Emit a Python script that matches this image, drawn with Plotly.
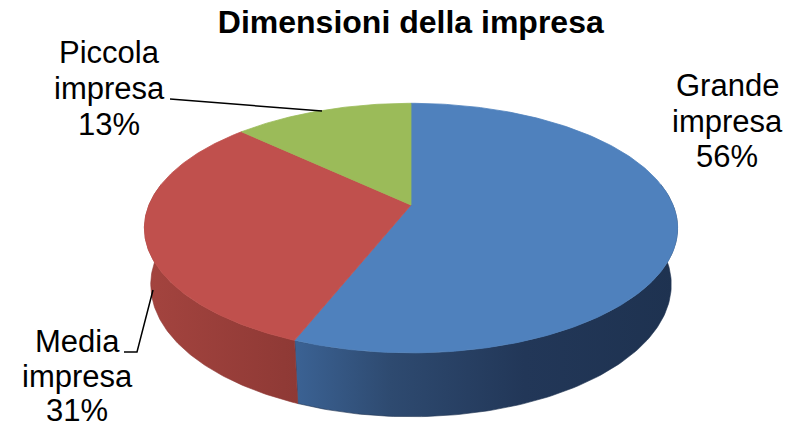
import numpy as np
import plotly.graph_objects as go

# Company size breakdown
categories = ["Grande impresa", "Media impresa", "Piccola impresa"]
shares = [56, 31, 13]
top_colors = ["#4F81BD", "#C0504D", "#9BBB59"]
side_scales = [
    [[0.0, "#3b6294"], [0.25, "#2e4a70"], [0.6, "#223758"], [1.0, "#1e3250"]],
    [[0.0, "#a4443f"], [1.0, "#8e3935"]],
    [[0.0, "#7f9a48"], [1.0, "#6d853c"]],
]
title = "Dimensioni della impresa"

W, H_PX = 793, 428
FONT = "Liberation Sans, Arial, sans-serif"

# Perspective camera for a tilted disc (radius 1, thickness DEPTH)
CX, CY = 411.0, 205.0
SCALE = 262.0
DIST = 4.8
SIN_A = 0.46
COS_A = float(np.sqrt(1 - SIN_A ** 2))
DEPTH = 0.245


def project(theta_deg, h=0.0, r=1.0):
    t = np.radians(theta_deg)
    u = r * np.sin(t)
    v = r * np.cos(t)
    xc = u
    yc = v * SIN_A + h * COS_A
    zc = DIST + v * COS_A - h * SIN_A
    x = CX + SCALE * DIST * xc / zc
    y = CY - SCALE * DIST * yc / zc
    return x, y


total = float(sum(shares))
bounds = np.concatenate([[0.0], np.cumsum(shares) / total * 360.0])

fig = go.Figure()

# Visible outer wall (front half of the disc)
for i, cat in enumerate(categories):
    a0, a1 = bounds[i], bounds[i + 1]
    lo, hi = max(a0, 80.0), min(a1, 280.0)
    if hi <= lo:
        continue
    th = np.linspace(lo, hi, 120)
    xt, yt = project(th, 0.0)
    xb, yb = project(th[::-1], -DEPTH)
    xs = np.concatenate([xt, xb, xt[:1]])
    ys = np.concatenate([yt, yb, yt[:1]])
    fig.add_trace(go.Scatter(
        x=xs, y=ys, mode="lines", fill="toself",
        line=dict(width=0.6, color=side_scales[i][-1][1]),
        fillgradient=dict(type="horizontal", colorscale=side_scales[i]),
        hoverinfo="skip", showlegend=False,
    ))

# Top faces of the slices
for i, cat in enumerate(categories):
    a0, a1 = bounds[i], bounds[i + 1]
    th = np.linspace(a0, a1, 200)
    xr, yr = project(th, 0.0)
    xs = np.concatenate([[CX], xr, [CX]])
    ys = np.concatenate([[CY], yr, [CY]])
    fig.add_trace(go.Scatter(
        x=xs, y=ys, mode="lines", fill="toself",
        fillcolor=top_colors[i],
        line=dict(width=0.8, color=top_colors[i]),
        name=cat, hoverinfo="name", showlegend=False,
    ))

# Data labels: one line per annotation to keep tight line spacing
label_pos = {
    "Grande impresa": (727, [85, 121, 156]),
    "Piccola impresa": (109, [52, 88, 124]),
    "Media impresa": (77, [341, 376, 410]),
}
for cat, val in zip(categories, shares):
    x0, ys_lab = label_pos[cat]
    lines = cat.split(" ") + [f"{val}%"]
    for txt, yy in zip(lines, ys_lab):
        fig.add_annotation(
            x=x0, y=yy, xref="x", yref="y", text=txt, showarrow=False,
            xanchor="center", yanchor="middle",
            font=dict(family=FONT, size=31, color="#000000"),
        )

# Leader lines
fig.add_shape(type="line", x0=170, y0=99, x1=322, y1=111,
              line=dict(color="#000000", width=1.5), xref="x", yref="y")
fig.add_shape(type="path", path="M 124 352 L 137 352 L 153 290",
              line=dict(color="#000000", width=1.5), xref="x", yref="y")

fig.update_layout(
    width=W, height=H_PX,
    margin=dict(l=0, r=0, t=0, b=0),
    paper_bgcolor="white", plot_bgcolor="white",
    title=dict(text=f"<b>{title}</b>", x=0.518, xanchor="center",
               y=0.95, yanchor="middle",
               font=dict(family=FONT, size=32, color="#000000")),
    xaxis=dict(range=[0, W], visible=False, fixedrange=True),
    yaxis=dict(range=[H_PX, 0], visible=False, fixedrange=True),
    showlegend=False,
)

fig.write_html("out.html")
